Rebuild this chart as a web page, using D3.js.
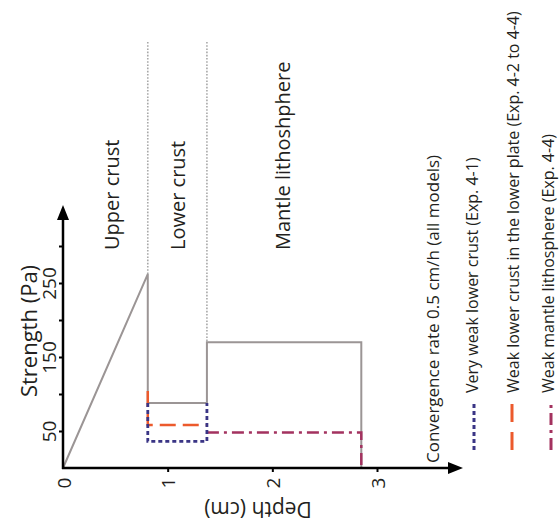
<!DOCTYPE html>
<html><head><meta charset="utf-8">
<script src="https://cdn.jsdelivr.net/npm/d3@7"></script>
<style>body{margin:0;background:#fff}svg{display:block}text{font-family:"Open Sans",sans-serif;fill:#231f20}</style>
</head><body><svg id="c" width="559" height="526"></svg>
<script>
// ---- data ----
const depthTicks = [0, 1, 2, 3];
const strengthTicks = [50, 100, 150, 200, 250, 300];
const strengthLabels = [50, 150, 250];
const layerBounds = [0.81, 1.375];
const layerNames = ["Upper crust", "Lower crust", "Mantle lithoshphere"];
const layerLabelDepth = [0.47, 1.1, 2.1];
const refDepth = [0, 0.81, 0.81, 1.375, 1.375, 2.85, 2.85];
const refStrength = [0, 262, 88, 88, 170, 170, 0];
const veryWeakDepth = [0.81, 0.81, 1.375, 1.375];
const veryWeakStrength = [88, 36, 36, 88];
const weakLowerDepth = [0.81, 0.81, 1.375];
const weakLowerStrength = [104, 58, 58];
const weakMantleDepth = [1.375, 2.85, 2.85];
const weakMantleStrength = [48, 48, 0];
const legendTitle = "Convergence rate 0.5 cm/h   (all models)";
const legendLabels = ["Very weak lower crust (Exp. 4-1)", "Weak lower crust in the lower plate (Exp. 4-2 to 4-4)", "Weak mantle lithosphere (Exp. 4-4)"];

const svg = d3.select("#c");
const x = d3.scaleLinear().domain([0, 3]).range([63, 377]);
const y = d3.scaleLinear().domain([0, 300]).range([468, 246]);
const line = d3.line().x(d => x(d[0])).y(d => y(d[1]));
const zip = (a, b) => a.map((v, i) => [v, b[i]]);

// boundary dotted lines
svg.selectAll(".bound").data(layerBounds).join("line")
  .attr("x1", d => x(d)).attr("x2", d => x(d))
  .attr("y1", 42).attr("y2", (d, i) => y(i === 0 ? 262 : 170))
  .attr("stroke", "#a8a8a8").attr("stroke-width", 1.6).attr("stroke-dasharray", "1.6,1.6");

// layer labels
svg.selectAll(".lay").data(layerNames).join("text")
  .attr("transform", (d, i) => `translate(${x(layerLabelDepth[i])},250) rotate(-90)`)
  .attr("dy", "0.35em").attr("font-size", 20).text(d => d);

// series
const series = [
  {d: zip(refDepth, refStrength), c: "#9b9595", w: 2, da: null},
  {d: zip(weakMantleDepth, weakMantleStrength), c: "#a3325f", w: 2.5, da: "12,5,3,5"},
  {d: zip(weakLowerDepth, weakLowerStrength), c: "#ec5a2c", w: 2.5, da: "16,7"},
  {d: zip(veryWeakDepth, veryWeakStrength), c: "#3a3585", w: 2.8, da: "4,3"}
];
svg.selectAll(".s").data(series).join("path")
  .attr("d", s => line(s.d)).attr("fill", "none")
  .attr("stroke", s => s.c).attr("stroke-width", s => s.w)
  .attr("stroke-dasharray", s => s.da);

// axes
const yAxis = svg.append("g").attr("transform", `translate(${x(0)},0)`)
  .call(d3.axisLeft(y).tickValues(strengthTicks).tickSize(4)
    .tickFormat(d => strengthLabels.includes(d) ? d : ""));
yAxis.select(".domain").remove();
yAxis.selectAll(".tick line").attr("stroke", "#000").attr("stroke-width", 2);
yAxis.selectAll(".tick text").attr("x", null).attr("dy", null)
  .attr("transform", "translate(-14,0) rotate(-90)")
  .attr("text-anchor", "middle").attr("dominant-baseline", "central")
  .attr("font-size", 19).attr("font-family", "Open Sans").attr("fill", "#231f20");

const xAxis = svg.append("g").attr("transform", `translate(0,${y(0)})`)
  .call(d3.axisBottom(x).tickValues(depthTicks).tickSize(4).tickFormat(d3.format("d")));
xAxis.select(".domain").remove();
xAxis.selectAll(".tick line").attr("stroke", "#000").attr("stroke-width", 2).filter(d => d === 0).remove();
xAxis.selectAll(".tick text").attr("y", null).attr("dy", null)
  .attr("transform", "translate(0,15) rotate(-90)")
  .attr("text-anchor", "middle").attr("dominant-baseline", "central")
  .attr("font-size", 19).attr("font-family", "Open Sans").attr("fill", "#231f20");

// axis lines with arrows
svg.append("line").attr("x1", x(0)).attr("x2", x(0)).attr("y1", y(0) + 1).attr("y2", 218)
  .attr("stroke", "#000").attr("stroke-width", 2.5);
svg.append("path").attr("d", `M${x(0)},205 L${x(0) - 6},220 L${x(0) + 6},220 Z`).attr("fill", "#000");
svg.append("line").attr("x1", x(0) - 1).attr("x2", 450).attr("y1", y(0)).attr("y2", y(0))
  .attr("stroke", "#000").attr("stroke-width", 2.5);
svg.append("path").attr("d", `M463,${y(0)} L448,${y(0) - 6} L448,${y(0) + 6} Z`).attr("fill", "#000");

// axis titles
svg.append("text").attr("transform", "translate(28,331) rotate(-90)")
  .attr("text-anchor", "middle").attr("dominant-baseline", "central")
  .attr("font-size", 22).text("Strength (Pa)");
svg.append("text").attr("transform", "translate(258,510) rotate(180)")
  .attr("text-anchor", "middle").attr("dominant-baseline", "central")
  .attr("font-size", 21).text("Depth (cm)");

// legend
svg.append("text").attr("transform", "translate(439,463) rotate(-90)")
  .attr("font-size", 17).text(legendTitle);
const legX = [478, 519, 554];
const symX = [474, 512, 551];
const legStyle = series.slice(1).reverse();
svg.selectAll(".lt").data(legendLabels).join("text")
  .attr("transform", (d, i) => `translate(${legX[i]},393) rotate(-90)`)
  .attr("font-size", 16).text(d => d);
svg.selectAll(".ls").data(legStyle).join("line")
  .attr("x1", (d, i) => symX[i]).attr("x2", (d, i) => symX[i])
  .attr("y1", 450).attr("y2", 402)
  .attr("stroke", s => s.c).attr("stroke-width", 3)
  .attr("stroke-dasharray", (s, i) => i === 1 ? "18,10" : s.da);
</script></body></html>
